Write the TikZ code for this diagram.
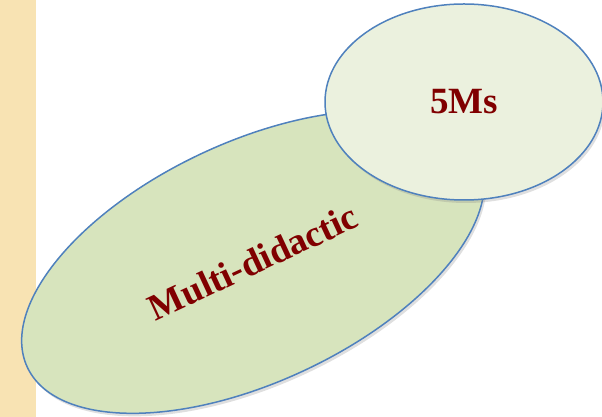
\documentclass[tikz,border=0pt]{standalone}
\usepackage{fontspec}
\setmainfont{Liberation Serif}
\usepackage{tikz}
\usetikzlibrary{shapes.geometric, shadows}
\definecolor{stripbeige}{HTML}{F8E3B3}
\definecolor{bigfill}{HTML}{D7E4BD}
\definecolor{smallfill}{HTML}{EBF1DE}
\definecolor{bubbleblue}{HTML}{4F81BD}
\definecolor{wordred}{HTML}{800000}

\begin{document}
\begin{tikzpicture}[x=1pt, y=1pt,
    bubble/.style={ellipse, draw=bubbleblue, line width=1.5pt, inner sep=0pt,
      font=\bfseries\fontsize{37}{40}\selectfont, text=wordred,
      drop shadow={shadow xshift=2pt, shadow yshift=-3pt, opacity=0.25}}]
      \useasboundingbox (0,0) rectangle (602,417);
      \fill[stripbeige] (0,0) rectangle (36,417);

      \node[bubble, fill=bigfill, minimum width=498pt, minimum height=240pt, rotate=25] (MD) at (253,155) {Multi-didactic};
      \node[bubble, fill=smallfill, minimum width=278pt, minimum height=196pt] (M5) at (464,315) {5Ms};
    \end{tikzpicture}
\end{document}
